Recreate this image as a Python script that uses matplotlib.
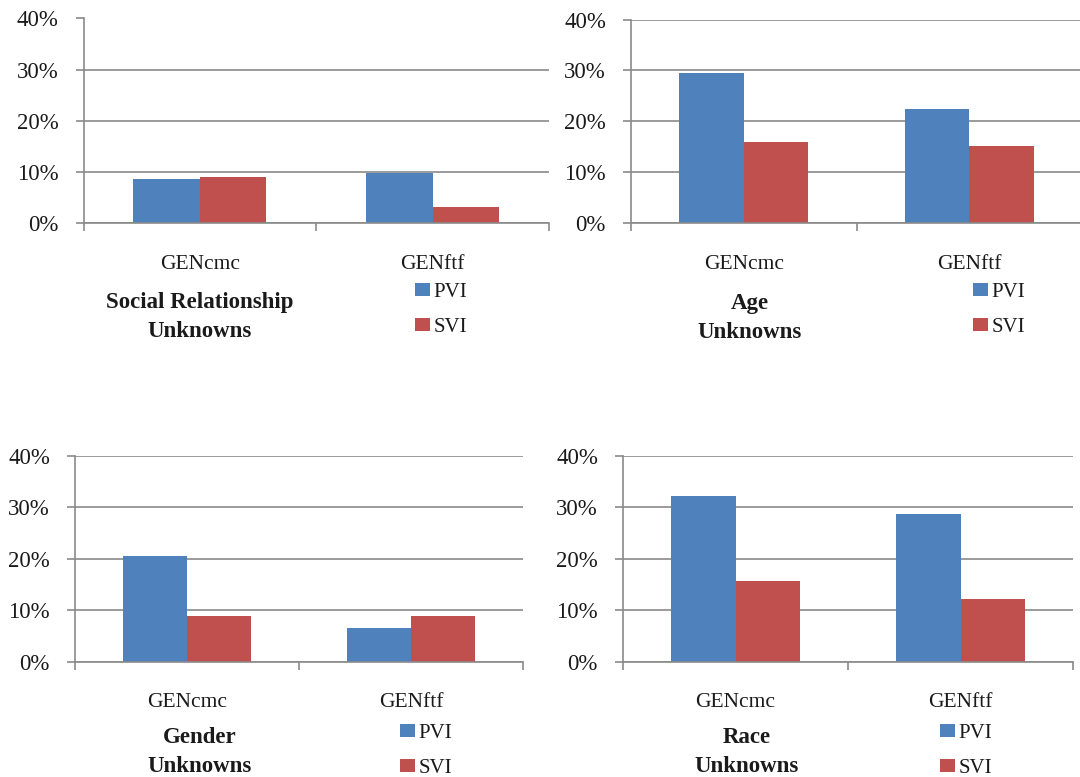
import matplotlib
matplotlib.use("Agg")
import matplotlib.pyplot as plt
from matplotlib.patches import Patch
from matplotlib.ticker import FixedLocator, FuncFormatter

# ---- data (percent of unknowns) ----
categories = ["GENcmc", "GENftf"]
series_names = ["PVI", "SVI"]

titles = ["Social Relationship\nUnknowns", "Age\nUnknowns",
          "Gender\nUnknowns", "Race\nUnknowns"]

pvi_social = [8.7, 9.7]
svi_social = [9.0, 3.1]
pvi_age = [29.4, 22.5]
svi_age = [16.0, 15.1]
pvi_gender = [20.5, 6.5]
svi_gender = [8.9, 8.9]
pvi_race = [32.3, 28.8]
svi_race = [15.7, 12.2]

y_ticks = [0, 10, 20, 30, 40]

# ---- style ----
BLUE = "#4F81BD"
RED = "#C0504D"
GRID = "#8a8a8a"
TEXT = "#1a1a1a"
SERIF = ["Liberation Serif", "DejaVu Serif"]

W, H = 1080, 777
fig = plt.figure(figsize=(W / 100, H / 100), dpi=100)
fig.patch.set_facecolor("white")


def px_axes(left, top, right, bottom):
    return fig.add_axes([left / W, 1 - bottom / H, (right - left) / W, (bottom - top) / H])


# axes boxes in pixels: left, top, right, bottom
boxes = [
    (83.5, 18.5, 549, 223),
    (631, 19.5, 1082, 223),
    (75, 456, 523, 661.5),
    (623, 456, 1073, 661.5),
]
# legend anchors (upper-left of first handle) in pixels
legend_pos = [(415, 283), (973, 283), (400, 724), (940, 724)]
# title centre (pixels)
title_pos = [(200, 317), (750, 318), (200, 752), (747, 752)]

pvi_all = [pvi_social, pvi_age, pvi_gender, pvi_race]
svi_all = [svi_social, svi_age, svi_gender, svi_race]

bar_w = 1 / 3.5
x = list(range(len(categories)))

for i, box in enumerate(boxes):
    ax = px_axes(*box)
    ax.bar([v - bar_w / 2 for v in x], pvi_all[i], width=bar_w, color=BLUE, zorder=3)
    ax.bar([v + bar_w / 2 for v in x], svi_all[i], width=bar_w, color=RED, zorder=3)

    ax.set_xlim(-0.5, len(categories) - 0.5)
    ax.set_ylim(0, 40)

    # y axis: outward ticks with percent labels
    ax.yaxis.set_major_locator(FixedLocator(y_ticks))
    ax.yaxis.set_major_formatter(FuncFormatter(lambda v, p: f"{int(v)}%"))
    ax.tick_params(axis="y", which="major", direction="out", length=6, width=1.2,
                   color=GRID, pad=12, labelsize=16.5, labelcolor=TEXT)
    for lab in ax.get_yticklabels():
        lab.set_family(SERIF)

    # x axis: tick marks at category boundaries, labels at category centres
    ax.xaxis.set_major_locator(FixedLocator([-0.5, 0.5, 1.5]))
    ax.xaxis.set_major_formatter(FuncFormatter(lambda v, p: ""))
    ax.xaxis.set_minor_locator(FixedLocator(x))
    ax.set_xticklabels(categories, minor=True)
    ax.tick_params(axis="x", which="major", direction="out", length=6, width=1.2, color=GRID)
    ax.tick_params(axis="x", which="minor", length=0, pad=23, labelsize=15.5, labelcolor=TEXT)
    for lab in ax.get_xticklabels(minor=True):
        lab.set_family(SERIF)

    ax.grid(axis="y", color=GRID, linewidth=1.2, zorder=0)
    for side in ["top", "right"]:
        ax.spines[side].set_visible(False)
    for side in ["left", "bottom"]:
        ax.spines[side].set_color(GRID)
        ax.spines[side].set_linewidth(1.2)
        ax.spines[side].set_zorder(4)

    tx, ty = title_pos[i]
    fig.text(tx / W, 1 - ty / H, titles[i], ha="center", va="center",
             fontsize=16.5, fontweight="bold", family=SERIF, color=TEXT, linespacing=1.45)

    handles = [Patch(facecolor=BLUE, edgecolor="none"), Patch(facecolor=RED, edgecolor="none")]
    lx, ly = legend_pos[i]
    fig.legend(handles, series_names, loc="upper left",
               bbox_to_anchor=(lx / W, 1 - ly / H), bbox_transform=fig.transFigure,
               frameon=False, borderpad=0, borderaxespad=0,
               handlelength=0.7, handleheight=0.6, handletextpad=0.2,
               labelspacing=0.75, prop={"family": SERIF, "size": 15},
               labelcolor=TEXT)

fig.savefig("out.png", dpi=100, facecolor="white")
